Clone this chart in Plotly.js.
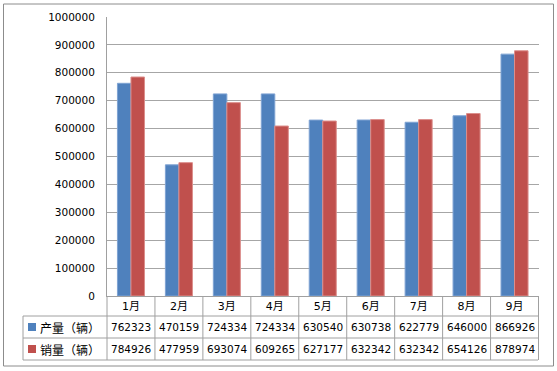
<!DOCTYPE html>
<html><head><meta charset="utf-8">
<script src="https://cdn.plot.ly/plotly-3.0.1.min.js"></script>
<style>html,body{margin:0;padding:0;background:#fff;}#chart{width:557px;height:371px;}</style>
</head><body><div id="chart"></div>
<script>
const categories = ['1月','2月','3月','4月','5月','6月','7月','8月','9月'];
const seriesNames = ['产量（辆）','销量（辆）'];
const production = [762323,470159,724334,724334,630540,630738,622779,646000,866926];
const sales = [784926,477959,693074,609265,627177,632342,632342,654126,878974];
const seriesColors = ['#4F81BD','#C0504D'];
const edgeColors = ['#7fa3d3','#dc8f8c'];

const W = 557, H = 371;
const L = 107, R = 539, T = 17, B = 296;
const pw = R - L, ph = B - T;
const px = x => (x - L) / pw;
const py = y => (B - y) / ph;

const font = 'DejaVu Sans, Noto Sans CJK SC, sans-serif';
const gridC = '#a6a6a6';
const lineC = '#a0a0a0';

const traces = [production, sales].map((vals, i) => ({
  type: 'bar', name: seriesNames[i], x: categories, y: vals,
  marker: {color: seriesColors[i], line: {color: edgeColors[i], width: 1}},
  hoverinfo: 'none'
}));

const shapes = [];
const hline = (y, x0, x1) => shapes.push({type:'line', xref:'paper', yref:'paper', x0:px(x0), x1:px(x1), y0:py(y), y1:py(y), line:{color:lineC, width:1}});
// table horizontal lines
hline(316, 23, 538);
hline(338, 23, 538);
hline(360, 23, 538);
// left border of label column
shapes.push({type:'line', xref:'paper', yref:'paper', x0:px(23), x1:px(23), y0:py(316), y1:py(360), line:{color:lineC, width:1}});
shapes.push({type:'line', xref:'paper', yref:'paper', x0:0, x1:0, y0:py(296), y1:py(360), line:{color:lineC, width:1}});
// category separators
for (let i = 0; i < categories.length; i++) {
  shapes.push({type:'line', xref:'x', yref:'paper', x0:i+0.5, x1:i+0.5, y0:py(296), y1:py(360), line:{color:lineC, width:1}});
}
// outer border
shapes.push({type:'rect', xref:'paper', yref:'paper', x0:px(3.5), x1:px(553.5), y0:py(366), y1:py(4), line:{color:'#8c8c8c', width:1}});
// legend keys
[327, 349].forEach((cy, i) => {
  shapes.push({type:'rect', xref:'paper', yref:'paper', x0:px(28), x1:px(36), y0:py(cy+4), y1:py(cy-4), fillcolor:seriesColors[i], line:{width:0}});
});

const annotations = [];
[production, sales].forEach((vals, i) => {
  const cy = i === 0 ? 327 : 349;
  vals.forEach((v, j) => annotations.push({
    x: categories[j], xref:'x', y: py(cy), yref:'paper', text: String(v), showarrow:false,
    font:{family:font, size:10.5, color:'#000'}, xanchor:'center', yanchor:'middle'
  }));
  annotations.push({x: px(38), xref:'paper', y: py(cy), yref:'paper', text: seriesNames[i], showarrow:false,
    font:{family:'Noto Sans CJK SC, sans-serif', size:12, color:'#000'}, xanchor:'left', yanchor:'middle'});
});

const layout = {
  width: W, height: H,
  margin: {l:L, r:W-R, t:T, b:H-B, pad:0},
  paper_bgcolor:'#fff', plot_bgcolor:'#fff',
  showlegend:false,
  barmode:'group', bargap:0.436, bargroupgap:0,
  xaxis: {type:'category', showgrid:false, zeroline:false, showline:true, linecolor:lineC, linewidth:1,
    ticks:'', tickfont:{family:font, size:11, color:'#000'}, fixedrange:true},
  yaxis: {range:[0,1000000], dtick:100000, tickformat:'d', showgrid:true, gridcolor:gridC, gridwidth:1,
    zeroline:false, showline:true, linecolor:lineC, linewidth:1, ticks:'', ticklabelstandoff:9,
    tickfont:{family:font, size:10.5, color:'#000'}, fixedrange:true},
  shapes: shapes, annotations: annotations
};
Plotly.newPlot('chart', traces, layout, {displayModeBar:false, staticPlot:true});
</script></body></html>
